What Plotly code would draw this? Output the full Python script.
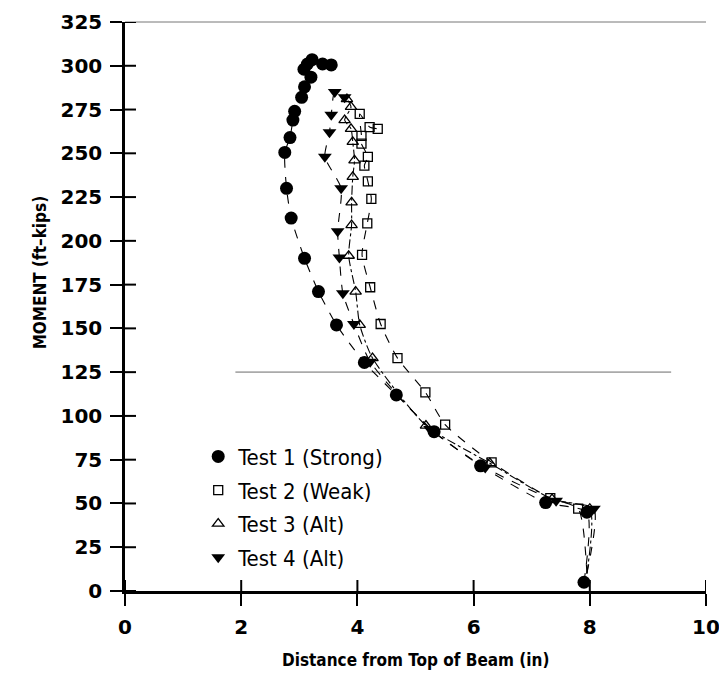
import plotly.graph_objects as go

# ---- data ----
test1_x = [7.9, 7.95, 7.24, 6.12, 5.32, 4.67, 4.12, 3.64, 3.33, 3.09, 2.86, 2.78, 2.75, 2.84, 2.89, 2.92, 3.04, 3.09, 3.2, 3.08, 3.14, 3.22, 3.40, 3.55]
test1_y = [5, 45, 50.5, 71.5, 91, 112, 130.5, 152, 171, 190, 213, 230, 250.5, 259, 269, 274, 282, 288, 293.5, 298, 301, 303.5, 301, 300.5]

test2_x = [7.95, 7.8, 7.32, 6.31, 5.51, 5.17, 4.69, 4.40, 4.22, 4.08, 4.17, 4.24, 4.18, 4.12, 4.18, 4.07, 4.07, 4.04, 4.21, 4.35]
test2_y = [10, 47, 53, 73.5, 95, 113.5, 133, 152.5, 173.5, 192, 210, 224, 234, 243, 248, 255.5, 260, 272.5, 265, 264]

test3_x = [7.95, 8.0, 7.35, 6.28, 5.18, 4.26, 4.04, 3.97, 3.85, 3.90, 3.90, 3.92, 3.95, 3.92, 3.89, 3.78, 3.89, 3.82]
test3_y = [10, 47, 52.5, 73, 94.5, 133, 152, 171, 191.5, 209, 222, 236.5, 246, 256.5, 264, 269, 276.5, 281]

test4_x = [7.95, 8.07, 7.42, 6.2, 5.25, 4.22, 3.94, 3.75, 3.69, 3.66, 3.72, 3.44, 3.52, 3.55, 3.61, 3.78]
test4_y = [10, 47, 51.5, 70.5, 92.5, 131, 152.5, 170, 190.5, 205.5, 230, 248, 262, 272, 285, 282]

series_names = ["Test 1 (Strong)", "Test 2 (Weak)", "Test 3 (Alt)", "Test 4 (Alt)"]
x_ticks = [0, 2, 4, 6, 8, 10]
y_ticks = list(range(0, 326, 25))
ref_line_y = 125
ref_line_x = [1.9, 9.4]

X_RANGE = [0, 10]
Y_RANGE = [0, 325]
FIG_W, FIG_H = 719, 692
M_L, M_R, M_T, M_B = 125, 13, 22, 101
PLOT_W = FIG_W - M_L - M_R
PLOT_H = FIG_H - M_T - M_B
INNER_TICK_PX = 11

# ---- styles ----
styles = [
    dict(symbol="circle", size=13, color="black", line=dict(width=0), dash="dash", skip=0),
    dict(symbol="square-open", size=9, color="black", line=dict(width=1.3, color="black"), dash="dash", skip=1),
    dict(symbol="triangle-up-open", size=10, color="black", line=dict(width=1.3, color="black"), dash="dashdot", skip=1),
    dict(symbol="triangle-down", size=12, color="black", line=dict(width=0), dash="dash", skip=1),
]
data = [(test1_x, test1_y), (test2_x, test2_y), (test3_x, test3_y), (test4_x, test4_y)]

fig = go.Figure()
# lines
for (xs, ys), st in zip(data, styles):
    fig.add_trace(go.Scatter(x=xs, y=ys, mode="lines", showlegend=False, hoverinfo="skip",
                             line=dict(color="black", width=1.1, dash=st["dash"], shape="spline", smoothing=0.6)))
# markers
for (xs, ys), st, name in zip(data, styles, series_names):
    k = st["skip"]
    fig.add_trace(go.Scatter(x=xs[k:], y=ys[k:], mode="markers", name=name, legendgroup=name,
                             marker=dict(symbol=st["symbol"], size=st["size"], color=st["color"], line=st["line"])))

shapes = []
# reference gray line
shapes.append(dict(type="line", xref="x", yref="y", x0=ref_line_x[0], x1=ref_line_x[1], y0=ref_line_y, y1=ref_line_y,
                   line=dict(color="#aaaaaa", width=1.6), layer="below"))
# top frame line
shapes.append(dict(type="line", xref="paper", yref="paper", x0=0, x1=1, y0=1, y1=1,
                   line=dict(color="#777777", width=1.0), layer="below"))
# inward halves of crossing ticks
dy_in = INNER_TICK_PX * (Y_RANGE[1] - Y_RANGE[0]) / PLOT_H
dx_in = INNER_TICK_PX * (X_RANGE[1] - X_RANGE[0]) / PLOT_W
for xv in x_ticks:
    shapes.append(dict(type="line", xref="x", yref="y", x0=xv, x1=xv, y0=Y_RANGE[0], y1=Y_RANGE[0] + dy_in,
                       line=dict(color="black", width=2)))
for yv in y_ticks:
    shapes.append(dict(type="line", xref="x", yref="y", x0=X_RANGE[0], x1=X_RANGE[0] + dx_in, y0=yv, y1=yv,
                       line=dict(color="black", width=2)))

tick_font = dict(family="DejaVu Sans, Liberation Sans, Arial", size=20, color="black", weight="bold")
title_font = dict(family="Liberation Sans Narrow, DejaVu Sans Condensed, Arial Narrow, sans-serif", size=17,
                  color="black", weight="bold")

fig.update_layout(
    width=FIG_W, height=FIG_H,
    margin=dict(l=M_L, r=M_R, t=M_T, b=M_B),
    paper_bgcolor="white", plot_bgcolor="white",
    shapes=shapes,
    showlegend=True,
    legend=dict(x=0.126, y=0.273, xanchor="left", yanchor="top",
                bgcolor="rgba(0,0,0,0)", traceorder="grouped",
                font=dict(family="Liberation Sans Narrow, DejaVu Sans Condensed, Arial Narrow, sans-serif",
                          size=22, color="black"),
                itemsizing="trace", tracegroupgap=2),
    xaxis=dict(range=X_RANGE, tickvals=x_ticks, ticks="outside", ticklen=12, tickwidth=2, tickcolor="black",
               showline=True, linecolor="black", linewidth=2.5, showgrid=False, zeroline=False, automargin=False,
               tickfont=tick_font, ticklabelstandoff=4, ticklabeloverflow="allow"),
    yaxis=dict(range=Y_RANGE, tickvals=y_ticks, ticks="outside", ticklen=12, tickwidth=2, tickcolor="black",
               showline=True, linecolor="black", linewidth=2.5, showgrid=False, zeroline=False, automargin=False,
               tickfont=tick_font, ticklabelstandoff=4, ticklabeloverflow="allow"),
    annotations=[
        dict(text="Distance from Top of Beam (in)", xref="paper", yref="paper", x=0.5, y=0,
             yshift=-69, showarrow=False, yanchor="middle", font=title_font),
        dict(text="MOMENT (ft\u2013kips)", xref="paper", yref="paper", x=0, y=0.56, xshift=-85,
             showarrow=False, textangle=-90, xanchor="center", yanchor="middle", font=title_font),
    ],
)

fig.write_html("out.html", config={"displayModeBar": False},
               post_script="document.body.style.margin='0';document.body.style.overflow='hidden';")
